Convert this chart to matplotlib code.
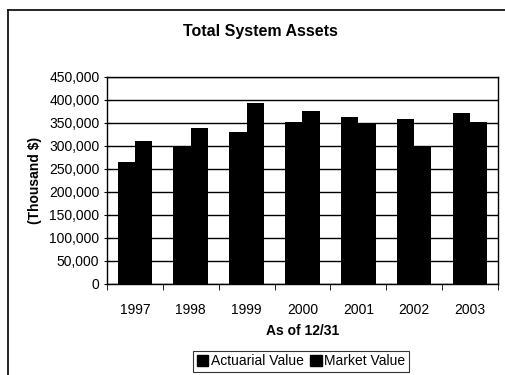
import numpy as np
import matplotlib.pyplot as plt
from matplotlib.patches import Rectangle
from matplotlib.lines import Line2D

years = ["1997", "1998", "1999", "2000", "2001", "2002", "2003"]
actuarial = [266000, 298000, 330000, 353000, 362000, 359000, 371000]
market = [311000, 340000, 393000, 376000, 349000, 297000, 353000]

plt.rcParams["font.family"] = ["Liberation Sans", "DejaVu Sans"]

fig = plt.figure(figsize=(5.06, 3.75), dpi=100)
ax = fig.add_axes([0.2115, 0.2427, 0.7725, 0.552])

x = np.arange(len(years))
w = 0.31
ax.bar(x - w / 2, actuarial, w, color="black", label="Actuarial Value", zorder=3)
ax.bar(x + w / 2, market, w, color="black", label="Market Value", zorder=3)

ax.set_xlim(-0.5, len(years) - 0.5)
ax.set_ylim(0, 450000)
ax.set_yticks(range(0, 450001, 50000))
ax.set_yticklabels([f"{v:,}" for v in range(0, 450001, 50000)], fontsize=10)
ax.yaxis.grid(True, color="black", linewidth=1, zorder=0)

# category labels centred, ticks between categories
ax.set_xticks(x)
ax.set_xticklabels(years, fontsize=10)
ax.tick_params(axis="x", length=0, pad=14)
ax.set_xticks(np.arange(-0.5, len(years)), minor=True)
ax.tick_params(axis="x", which="minor", length=4, direction="out")
ax.tick_params(axis="y", length=5, direction="inout", pad=3)

for s in ax.spines.values():
    s.set_linewidth(1)
    s.set_color("black")

ax.set_xlabel("As of 12/31", fontsize=10, fontweight="bold", labelpad=5)
ax.set_ylabel("(Thousand $)", fontsize=10, fontweight="bold", labelpad=5)
fig.text(0.514, 0.915, "Total System Assets", fontsize=11.5, fontweight="bold",
         ha="center", va="center")

handles = [Rectangle((0, 0), 1, 1, color="black"), Rectangle((0, 0), 1, 1, color="black")]
leg = fig.legend(handles, ["Actuarial Value", "Market Value"], loc="center",
                 bbox_to_anchor=(0.595, 0.037), ncol=2, fontsize=10, frameon=True,
                 fancybox=False, edgecolor="black", handlelength=0.8, handleheight=0.8,
                 handletextpad=0.2, columnspacing=0.5, borderpad=0.25)
leg.get_frame().set_linewidth(0.8)

# chart area border (left and top visible)
fig.add_artist(Line2D([8 / 506, 8 / 506], [0, 1 - 10 / 375], color="black", linewidth=1.2))
fig.add_artist(Line2D([8 / 506, 1], [1 - 10 / 375, 1 - 10 / 375], color="black", linewidth=1.2))

fig.savefig("out.png", dpi=100)
